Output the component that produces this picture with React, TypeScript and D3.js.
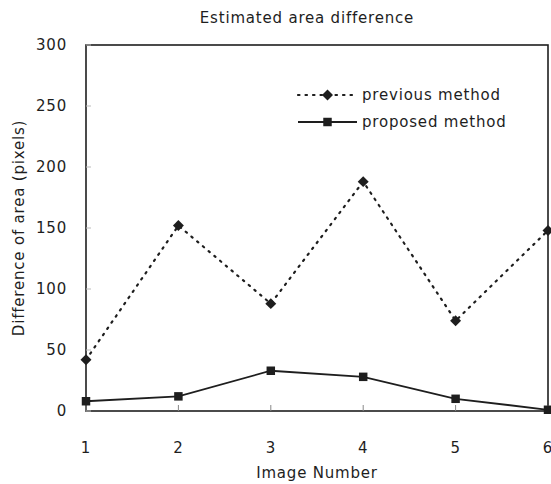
import * as d3 from 'd3'

const IMAGES = [1, 2, 3, 4, 5, 6]
const PREVIOUS = [42, 152, 88, 188, 74, 148]
const PROPOSED = [8, 12, 33, 28, 10, 1]
const Y_TICKS = [0, 50, 100, 150, 200, 250, 300]

const W = 551
const H = 484
const M = { top: 45, right: 3, bottom: 73, left: 86 }
const FONT = "'DejaVu Sans', sans-serif"
const INK = '#1e1e1e'

export default function App() {
  const x = d3.scaleLinear().domain([1, 6]).range([M.left, W - M.right])
  const y = d3.scaleLinear().domain([0, 300]).range([H - M.bottom, M.top])

  const line = d3
    .line<number>()
    .x((_d, i) => x(IMAGES[i]))
    .y((d) => y(d))

  // square rotated 45deg -> symmetric diamond
  const diamond = d3.symbol(d3.symbolSquare, 60)()
  const square = d3.symbol(d3.symbolSquare, 72)()

  const cx = (M.left + W - M.right) / 2
  const legX = 298
  const legX2 = 357

  return (
    <svg
      width={W}
      height={H}
      style={{ position: 'absolute', left: 0, top: 0, display: 'block', background: '#fff' }}
      fontFamily={FONT}
      letterSpacing={0.8}
    >
      <text x={cx - 10} y={23} textAnchor="middle" fontSize={15} fill={INK}>
        Estimated area difference
      </text>

      {/* frame */}
      <rect
        x={M.left}
        y={M.top}
        width={W - M.right - M.left}
        height={H - M.bottom - M.top}
        fill="none"
        stroke={INK}
        strokeWidth={1.6}
      />

      {/* y ticks */}
      {Y_TICKS.map((t) => (
        <g key={t}>
          <line x1={M.left} x2={M.left + 5} y1={y(t)} y2={y(t)} stroke="#bbb" strokeWidth={1} />
          <text x={67} y={y(t)} dy="0.35em" textAnchor="end" fontSize={15} fill={INK}>
            {t}
          </text>
        </g>
      ))}

      {/* x ticks */}
      {IMAGES.map((t) => (
        <g key={t}>
          <line x1={x(t)} x2={x(t)} y1={y(0)} y2={y(0) - 6} stroke="#888" strokeWidth={1} />
          <text x={x(t)} y={y(0) + 42} textAnchor="middle" fontSize={15} fill={INK}>
            {t}
          </text>
        </g>
      ))}

      <text x={cx} y={478} textAnchor="middle" fontSize={15} fill={INK}>
        Image Number
      </text>
      <text
        transform={`translate(24,${(M.top + H - M.bottom) / 2}) rotate(-90)`}
        textAnchor="middle"
        fontSize={15}
        fill={INK}
      >
        Difference of area (pixels)
      </text>

      {/* series */}
      <path
        d={line(PREVIOUS) ?? ''}
        fill="none"
        stroke={INK}
        strokeWidth={2.2}
        strokeDasharray="1.5 6"
        strokeLinecap="round"
      />
      {PREVIOUS.map((v, i) => (
        <path
          key={i}
          d={diamond ?? ''}
          transform={`translate(${x(IMAGES[i])},${y(v)}) rotate(45)`}
          fill={INK}
        />
      ))}
      <path d={line(PROPOSED) ?? ''} fill="none" stroke={INK} strokeWidth={1.8} />
      {PROPOSED.map((v, i) => (
        <path key={i} d={square ?? ''} transform={`translate(${x(IMAGES[i])},${y(v)})`} fill={INK} />
      ))}

      {/* legend */}
      <line
        x1={legX}
        x2={legX2}
        y1={95}
        y2={95}
        stroke={INK}
        strokeWidth={2.2}
        strokeDasharray="1.5 6"
        strokeLinecap="round"
      />
      <path d={diamond ?? ''} transform={`translate(${(legX + legX2) / 2},95) rotate(45)`} fill={INK} />
      <text x={362} y={95} dy="0.35em" fontSize={15} fill={INK}>
        previous method
      </text>
      <line x1={legX} x2={legX2} y1={122} y2={122} stroke={INK} strokeWidth={1.8} />
      <path d={square ?? ''} transform={`translate(${(legX + legX2) / 2},122)`} fill={INK} />
      <text x={362} y={122} dy="0.35em" fontSize={15} fill={INK}>
        proposed method
      </text>
    </svg>
  )
}
